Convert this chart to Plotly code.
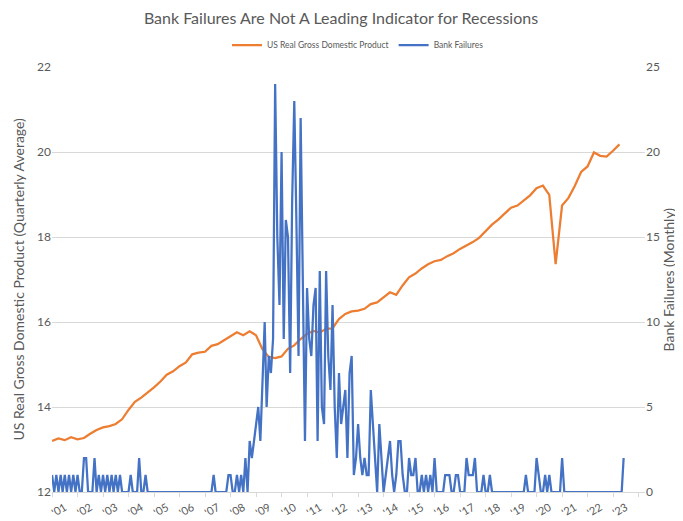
import pandas as pd
import plotly.graph_objects as go

# ---------------- data ----------------
# Monthly bank failures, Oct 2000 .. Mar 2023 (one row per calendar year)
bf_2000 = [1, 0, 1]
bf_2001 = [0, 1, 0, 1, 0, 1, 0, 1, 0, 1, 0, 0]
bf_2002 = [2, 2, 0, 0, 0, 2, 0, 1, 0, 1, 0, 1]
bf_2003 = [0, 1, 0, 1, 0, 1, 0, 0, 0, 0, 1, 0]
bf_2004 = [0, 0, 2, 0, 0, 1, 0, 0, 0, 0, 0, 0]
bf_2005 = [0, 0, 0, 0, 0, 0, 0, 0, 0, 0, 0, 0]
bf_2006 = [0, 0, 0, 0, 0, 0, 0, 0, 0, 0, 0, 0]
bf_2007 = [0, 1, 0, 0, 0, 0, 0, 0, 1, 1, 0, 0]
bf_2008 = [1, 0, 1, 0, 2, 0, 3, 2, 3, 4, 5, 3]
bf_2009 = [6, 10, 5, 8, 7, 9, 24, 15, 11, 20, 9, 16]
bf_2010 = [15, 7, 17, 23, 16, 8, 22, 13, 3, 12, 9, 8]
bf_2011 = [11, 12, 3, 13, 5, 4, 13, 8, 6, 11, 5, 2]
bf_2012 = [7, 4, 5, 6, 2, 7, 8, 1, 2, 4, 2, 1]
bf_2013 = [2, 1, 1, 6, 4, 2, 0, 4, 2, 0, 1, 2]
bf_2014 = [3, 1, 0, 1, 3, 3, 1, 0, 0, 2, 1, 1]
bf_2015 = [2, 0, 0, 1, 0, 1, 0, 1, 0, 2, 0, 0]
bf_2016 = [0, 0, 1, 1, 1, 0, 0, 1, 1, 0, 0, 0]
bf_2017 = [2, 1, 1, 1, 2, 0, 0, 0, 1, 0, 0, 1]
bf_2018 = [0, 0, 0, 0, 0, 0, 0, 0, 0, 0, 0, 0]
bf_2019 = [0, 0, 0, 0, 1, 0, 0, 0, 0, 2, 1, 0]
bf_2020 = [0, 1, 0, 1, 0, 0, 0, 0, 0, 2, 0, 0]
bf_2021 = [0, 0, 0, 0, 0, 0, 0, 0, 0, 0, 0, 0]
bf_2022 = [0, 0, 0, 0, 0, 0, 0, 0, 0, 0, 0, 0]
bf_2023 = [0, 0, 2]

bank_failures = (bf_2000 + bf_2001 + bf_2002 + bf_2003 + bf_2004 + bf_2005 + bf_2006
                 + bf_2007 + bf_2008 + bf_2009 + bf_2010 + bf_2011 + bf_2012 + bf_2013
                 + bf_2014 + bf_2015 + bf_2016 + bf_2017 + bf_2018 + bf_2019 + bf_2020
                 + bf_2021 + bf_2022 + bf_2023)
bf_dates = pd.date_range("2000-10-01", periods=len(bank_failures), freq="MS")

# Quarterly US real GDP (trillions), 2000Q3 .. 2022Q4
gdp_2000 = [13.20, 13.26]
gdp_2001 = [13.22, 13.29, 13.24, 13.27]
gdp_2002 = [13.37, 13.46, 13.52, 13.55]
gdp_2003 = [13.60, 13.71, 13.93, 14.12]
gdp_2004 = [14.22, 14.33, 14.46, 14.60]
gdp_2005 = [14.76, 14.84, 14.96, 15.05]
gdp_2006 = [15.24, 15.28, 15.30, 15.44]
gdp_2007 = [15.48, 15.57, 15.66, 15.76]
gdp_2008 = [15.69, 15.78, 15.69, 15.36]
gdp_2009 = [15.18, 15.15, 15.19, 15.37]
gdp_2010 = [15.45, 15.60, 15.72, 15.79]
gdp_2011 = [15.75, 15.84, 15.85, 16.07]
gdp_2012 = [16.19, 16.25, 16.27, 16.31]
gdp_2013 = [16.42, 16.46, 16.58, 16.70]
gdp_2014 = [16.64, 16.86, 17.05, 17.14]
gdp_2015 = [17.26, 17.36, 17.43, 17.46]
gdp_2016 = [17.55, 17.62, 17.72, 17.80]
gdp_2017 = [17.88, 17.98, 18.13, 18.29]
gdp_2018 = [18.41, 18.56, 18.69, 18.74]
gdp_2019 = [18.85, 18.98, 19.15, 19.21]
gdp_2020 = [18.99, 17.36, 18.74, 18.92]
gdp_2021 = [19.20, 19.53, 19.66, 19.99]
gdp_2022 = [19.91, 19.89, 20.03, 20.18]

gdp = (gdp_2000 + gdp_2001 + gdp_2002 + gdp_2003 + gdp_2004 + gdp_2005 + gdp_2006
       + gdp_2007 + gdp_2008 + gdp_2009 + gdp_2010 + gdp_2011 + gdp_2012 + gdp_2013
       + gdp_2014 + gdp_2015 + gdp_2016 + gdp_2017 + gdp_2018 + gdp_2019 + gdp_2020
       + gdp_2021 + gdp_2022)
gdp_dates = pd.date_range("2000-10-01", periods=len(gdp), freq="3MS") - pd.Timedelta(days=1)

tick_years = list(range(2001, 2024))
tick_labels = ["'" + str(y)[2:] for y in tick_years]
tick_positions = [f"{y}-04-01" for y in tick_years]

# ---------------- figure ----------------
ORANGE = "#ED7D31"
BLUE = "#4472C4"
GREY = "#595959"
GRID = "#D9D9D9"
FONT = "Lato"

# page body has an 8px margin, so the figure is sized to end at the window edge
W, H = 675, 513
L, R, T, B = 44, 38, 59, 29
plot_w = W - L - R
plot_h = H - T - B

fig = go.Figure()
fig.add_trace(go.Scatter(
    x=gdp_dates, y=gdp, mode="lines", name="US Real Gross Domestic Product",
    line=dict(color=ORANGE, width=2.25), yaxis="y"))
fig.add_trace(go.Scatter(
    x=bf_dates, y=bank_failures, mode="lines", name="Bank Failures",
    line=dict(color=BLUE, width=2.25), yaxis="y2"))

fig.update_layout(
    width=W, height=H,
    margin=dict(l=L, r=R, t=T, b=B),
    paper_bgcolor="white", plot_bgcolor="white",
    font=dict(family=FONT, color=GREY, size=12),
    title=dict(text="Bank Failures Are Not A Leading Indicator for Recessions",
               x=333 / W, xanchor="center", y=1 - 10 / H, yanchor="middle",
               font=dict(family=FONT, size=16, color=GREY)),
    legend=dict(orientation="h", x=(350 - L) / plot_w, xanchor="center",
                y=(H - B - 37) / plot_h, yanchor="middle",
                font=dict(family=FONT, size=8.5, color=GREY),
                itemwidth=30, tracegroupgap=0, bgcolor="rgba(0,0,0,0)"),
    showlegend=True,
    xaxis=dict(
        type="date", range=["2000-09-30", "2024-01-01"],
        tickmode="array", tickvals=tick_positions, ticktext=tick_labels,
        tickangle=-30, ticks="", tickfont=dict(size=11, color=GREY),
        ticklabelstandoff=4,
        showgrid=False, showline=True, linecolor=GRID, linewidth=1,
        zeroline=False, automargin=False,
        minor=dict(ticks="outside", ticklen=4, tickcolor=GRID,
                   tick0="2000-10-01", dtick="M12", showgrid=False),
    ),
    yaxis=dict(
        range=[12, 22], dtick=2, showgrid=True, gridcolor=GRID, gridwidth=1,
        zeroline=False, ticks="", tickfont=dict(size=12, color=GREY),
        automargin=False,
    ),
    yaxis2=dict(
        range=[0, 25], dtick=5, overlaying="y", side="right", showgrid=False,
        zeroline=False, ticks="", tickfont=dict(size=12, color=GREY),
        automargin=False,
    ),
    annotations=[
        dict(text="US Real Gross Domestic Product (Quarterly Average)",
             xref="paper", yref="paper", x=(10 - L) / plot_w, y=0.5,
             xanchor="center", yanchor="middle", textangle=-90, showarrow=False,
             font=dict(family=FONT, size=14, color=GREY)),
        dict(text="Bank Failures (Monthly)",
             xref="paper", yref="paper", x=(660 - L) / plot_w, y=0.5,
             xanchor="center", yanchor="middle", textangle=-90, showarrow=False,
             font=dict(family=FONT, size=14, color=GREY)),
    ],
)

fig.write_html("out.html")
